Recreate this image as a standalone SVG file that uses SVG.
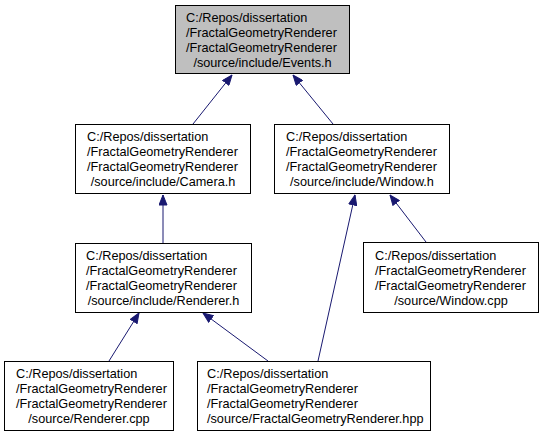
<svg xmlns="http://www.w3.org/2000/svg" width="544" height="437" viewBox="0 0 544 437">
<style>
.box{fill:#ffffff;stroke:#000000;stroke-width:1}
.root{fill:#bfbfbf}
text{font-family:"Liberation Sans",Arial,sans-serif;font-size:12.7px;fill:#000000}
.m{text-anchor:middle}
.edge{fill:none;stroke:#191970;stroke-width:1}
</style>
<defs>
<marker id="ah" markerUnits="userSpaceOnUse" markerWidth="11" markerHeight="9" refX="10.5" refY="4.5" orient="auto">
<path d="M0.5,0.5 L10.5,4.5 L0.5,8.5 Z" fill="#191970" stroke="#191970" stroke-width="1"/>
</marker>
</defs>
<rect width="544" height="437" fill="#ffffff"/>
<g id="connectors">
<path class="edge" d="M193,124 L232,75" marker-end="url(#ah)"/>
<path class="edge" d="M333,124 L293,75" marker-end="url(#ah)"/>
<path class="edge" d="M163,243 L163,195" marker-end="url(#ah)"/>
<path class="edge" d="M318,361 L355,195" marker-end="url(#ah)"/>
<path class="edge" d="M426,242 L390,195" marker-end="url(#ah)"/>
<path class="edge" d="M109,361 L139,313" marker-end="url(#ah)"/>
<path class="edge" d="M268,361 L203,313" marker-end="url(#ah)"/>
</g>
<g id="events_h">
<rect class="box root" x="175.5" y="5.5" width="174" height="68"/>
<text x="186" y="22">C:/Repos/dissertation</text>
<text x="186" y="37">/FractalGeometryRenderer</text>
<text x="186" y="52">/FractalGeometryRenderer</text>
<text class="m" x="262.5" y="67">/source/include/Events.h</text>
</g>
<g id="camera_h">
<rect class="box" x="75.5" y="124.5" width="175" height="69"/>
<text x="87" y="141">C:/Repos/dissertation</text>
<text x="87" y="156">/FractalGeometryRenderer</text>
<text x="87" y="171">/FractalGeometryRenderer</text>
<text class="m" x="163" y="186">/source/include/Camera.h</text>
</g>
<g id="window_h">
<rect class="box" x="274.5" y="124.5" width="175" height="69"/>
<text x="286" y="141">C:/Repos/dissertation</text>
<text x="286" y="156">/FractalGeometryRenderer</text>
<text x="286" y="171">/FractalGeometryRenderer</text>
<text class="m" x="362" y="186">/source/include/Window.h</text>
</g>
<g id="renderer_h">
<rect class="box" x="75.5" y="243.5" width="176" height="69"/>
<text x="86" y="260">C:/Repos/dissertation</text>
<text x="86" y="275">/FractalGeometryRenderer</text>
<text x="86" y="290">/FractalGeometryRenderer</text>
<text class="m" x="163.5" y="305">/source/include/Renderer.h</text>
</g>
<g id="window_cpp">
<rect class="box" x="363.5" y="242.5" width="175" height="70"/>
<text x="375" y="260">C:/Repos/dissertation</text>
<text x="375" y="275">/FractalGeometryRenderer</text>
<text x="375" y="290">/FractalGeometryRenderer</text>
<text class="m" x="451" y="305">/source/Window.cpp</text>
</g>
<g id="renderer_cpp">
<rect class="box" x="4.5" y="361.5" width="169" height="69"/>
<text x="16" y="378">C:/Repos/dissertation</text>
<text x="16" y="393">/FractalGeometryRenderer</text>
<text x="16" y="408">/FractalGeometryRenderer</text>
<text class="m" x="89" y="423">/source/Renderer.cpp</text>
</g>
<g id="fractalgeometryrenderer_hpp">
<rect class="box" x="197.5" y="361.5" width="233" height="69"/>
<text x="207" y="378">C:/Repos/dissertation</text>
<text x="207" y="393">/FractalGeometryRenderer</text>
<text x="207" y="408">/FractalGeometryRenderer</text>
<text x="207" y="423">/source/FractalGeometryRenderer.hpp</text>
</g>
</svg>
